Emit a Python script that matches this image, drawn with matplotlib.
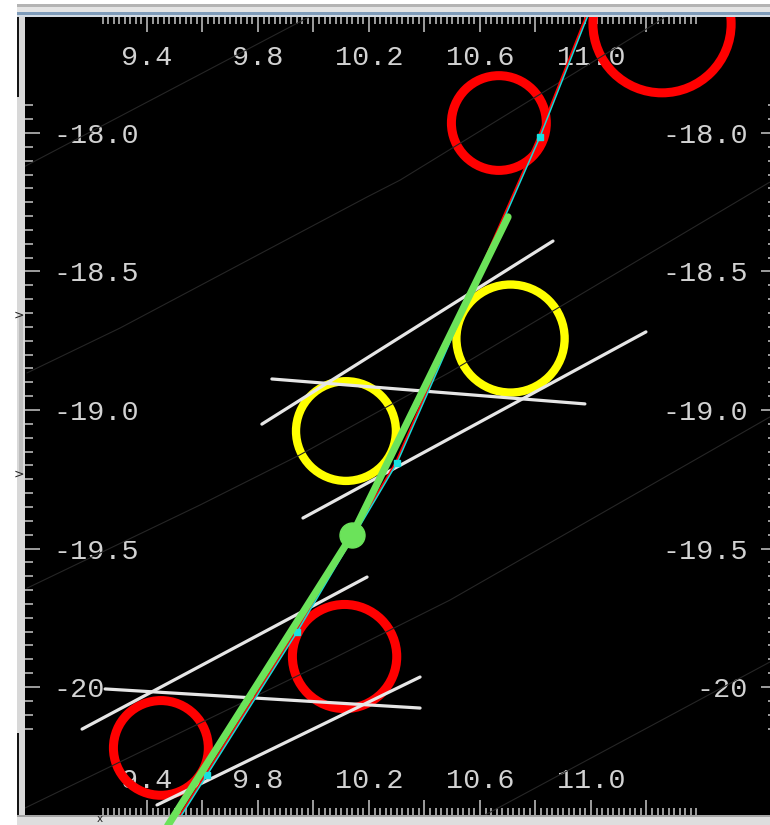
import numpy as np
import matplotlib
matplotlib.use("Agg")
import matplotlib.pyplot as plt
import matplotlib.transforms as mtransforms
from matplotlib.patches import Circle, Rectangle

# ---- tick labels -------------------------------------------------------
x_label_vals = [9.4, 9.8, 10.2, 10.6, 11.0]
x_label_text = ["9.4", "9.8", "10.2", "10.6", "11.0"]
y_label_vals = [-18.0, -18.5, -19.0, -19.5, -20.0]
y_label_text = ["-18.0", "-18.5", "-19.0", "-19.5", "-20"]

# ---- source apertures (centre x, centre y, radius) ----------------------
red_x = [11.256, 10.668, 9.450, 10.112]
red_y = [-17.606, -17.964, -20.220, -19.890]
red_r = [0.249, 0.171, 0.171, 0.188]

yellow_x = [10.117, 10.710]
yellow_y = [-19.076, -18.742]
yellow_r = [0.180, 0.195]

# ---- bar segments (start x, start y, end x, end y) ----------------------
bar_x0 = [9.814, 9.962, 9.850, 9.166, 9.436, 9.249]
bar_y0 = [-19.051, -19.390, -18.888, -20.152, -20.426, -20.007]
bar_x1 = [10.863, 11.198, 10.978, 10.193, 10.384, 10.384]
bar_y1 = [-18.390, -18.718, -18.978, -19.603, -19.964, -20.076]

# ---- faint coordinate grid curves --------------------------------------
grid1_x = [8.900, 10.100]
grid1_y = [-18.152, -17.520]
grid2_x = [8.968, 9.303, 10.193, 10.312, 11.223, 11.330]
grid2_y = [-18.866, -18.704, -18.231, -18.170, -17.610, -17.540]
grid3_x = [8.968, 9.591, 9.951, 10.492, 11.638, 11.700]
grid3_y = [-19.643, -19.343, -19.162, -18.863, -18.181, -18.150]
grid4_x = [8.960, 10.059, 10.492, 11.638, 11.700]
grid4_y = [-20.437, -19.903, -19.686, -19.029, -18.995]
grid5_x = [10.618, 11.700]
grid5_y = [-20.462, -19.880]

# ---- measured track and its markers -------------------------------------
track_x = [10.995, 10.816, 10.301, 9.941, 9.616, 9.520]
track_y = [-17.560, -18.014, -19.191, -19.801, -20.318, -20.470]
track_mark_x = [10.816, 10.301, 9.941, 9.616]
track_mark_y = [-18.014, -19.191, -19.801, -20.318]

# ---- fitted path and its reference point ---------------------------------
fit_x = [10.701, 10.139, 9.465]
fit_y = [-18.303, -19.451, -20.516]
fit_center_x = [10.139]
fit_center_y = [-19.451]

# ------------------------------------------------------------------------
W, H = 770, 825
fig = plt.figure(figsize=(W / 100, H / 100), dpi=100, facecolor="white")


def frame_rect(x0, y0, x1, y1, color):
    """Window chrome rectangle given in pixel coordinates from the top-left."""
    fig.patches.append(Rectangle((x0 / W, 1 - y1 / H), (x1 - x0) / W, (y1 - y0) / H,
                                 transform=fig.transFigure, facecolor=color,
                                 edgecolor="none", zorder=-1))


# window chrome around the canvas
frame_rect(17, 4, W, 7, "#b4b4b4")
frame_rect(17, 7, W, 12, "#e4e4e4")
frame_rect(17, 12, W, 15, "#7f9cba")
frame_rect(17, 15, W, 17, "#d4dce4")
frame_rect(17, 17, 25, H, "#d8d8d8")
frame_rect(17, 17, 19, 97, "#151515")
frame_rect(17, 733, 19, 815, "#151515")
frame_rect(19, 315, 23, 474, "#bdbdbd")
frame_rect(17, 815, W, 817, "#a4a4a4")
frame_rect(17, 817, W, H, "#dedede")
for yy in (315, 474):
    fig.text(19 / W, 1 - yy / H, ">", fontsize=9, color="#202020",
             ha="center", va="center", family="DejaVu Sans")
fig.text(100 / W, 1 - 819 / H, "x", fontsize=7.5, color="#202020",
         ha="center", va="center", family="DejaVu Sans")

ax = fig.add_axes([25 / W, 10 / H, 751 / W, 798 / H])
ax.set_facecolor("black")
ax.set_xlim(8.96036, 11.66667)
ax.set_ylim(-20.46209, -17.58123)
for s in ax.spines.values():
    s.set_visible(False)

# ticks on all four sides, pointing inward
ax.set_xticks(np.round(np.arange(9.4, 11.21, 0.2), 2))
ax.set_xticks(np.round(np.arange(9.24, 11.381, 0.02), 2), minor=True)
ax.set_yticks(y_label_vals)
ax.set_yticks(np.round(np.arange(-20.15, -17.89, 0.05), 2), minor=True)
ax.tick_params(which="both", direction="in", top=True, bottom=True,
               left=True, right=True, labelbottom=False, labelleft=False,
               color="#c8c8c8", width=1.1)
ax.tick_params(which="major", length=10.8)
ax.xaxis.set_tick_params(which="minor", length=5.0)
ax.yaxis.set_tick_params(which="minor", length=5.8)

# tick labels drawn inside the frame
label_kw = dict(color="#d2d2d2", fontsize=20.5, family="Liberation Mono",
                va="baseline", zorder=1)
xt = ax.get_xaxis_transform()
for v, t in zip(x_label_vals, x_label_text):
    ax.text(v, 0.93985, t, transform=xt, ha="center", **label_kw)
    ax.text(v, 0.03383, t, transform=xt, ha="center", **label_kw)
yt = ax.get_yaxis_transform() + mtransforms.ScaledTranslation(0, -0.10, fig.dpi_scale_trans)
for v, t in zip(y_label_vals, y_label_text):
    ax.text(0.0373, v, t, transform=yt, ha="left", **label_kw)
    ax.text(0.9627, v, t, transform=yt, ha="right", **label_kw)

# apertures
for x, y, r in zip(red_x, red_y, red_r):
    ax.add_patch(Circle((x, y), r, fill=False, edgecolor="#ff0000", linewidth=6.5, zorder=2))
for x, y, r in zip(yellow_x, yellow_y, yellow_r):
    ax.add_patch(Circle((x, y), r, fill=False, edgecolor="#ffff00", linewidth=6.0, zorder=2))

# coordinate grid
for gx, gy in ((grid1_x, grid1_y), (grid2_x, grid2_y), (grid3_x, grid3_y),
               (grid4_x, grid4_y), (grid5_x, grid5_y)):
    ax.plot(gx, gy, color="#262626", linewidth=0.8, zorder=3)

# bars
for x0, y0, x1, y1 in zip(bar_x0, bar_y0, bar_x1, bar_y1):
    ax.plot([x0, x1], [y0, y1], color="#e6e6e6", linewidth=2.3,
            solid_capstyle="round", zorder=4)

# measured track (red with cyan overlay) and its markers
shift = mtransforms.ScaledTranslation(-0.015, 0, fig.dpi_scale_trans)
ax.plot(track_x, track_y, color="#ff0000", linewidth=1.4, zorder=5,
        transform=ax.transData + shift)
ax.plot(track_x, track_y, color="#19d9d9", linewidth=1.1, zorder=5)
ax.plot(track_mark_x, track_mark_y, linestyle="none", marker="s", markersize=5,
        color="#19e0e0", zorder=5)

# fitted path
ax.plot(fit_x, fit_y, color="#6be35a", linewidth=5.2, solid_capstyle="round",
        zorder=6, clip_on=False)
ax.plot(fit_center_x, fit_center_y, linestyle="none", marker="o", markersize=18,
        color="#6be35a", zorder=6)

fig.savefig("out.png", dpi=100, facecolor=fig.get_facecolor())
